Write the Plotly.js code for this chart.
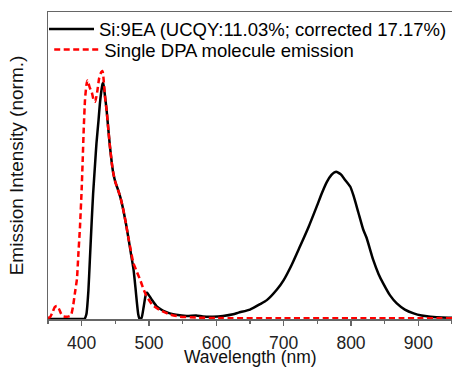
<!DOCTYPE html>
<html>
<head>
<meta charset="utf-8">
<script src="https://cdn.plot.ly/plotly-3.0.1.min.js"></script>
<style>html,body{margin:0;padding:0;background:#fff;}#chart{width:452px;height:368px;}</style>
</head>
<body>
<div id="chart"></div>
<script>
// Si:9EA emission (normalized)
const siWavelength = [350,400,404,407,410,412,415,417,420,422,425,427,429,431,432,434,437,440,442,445,447,450,454,458,462,466,469,473,477,480,482,484,486,489,492,495,497,500,505,511,518,525,531,540,556,570,580,595,610,625,633,650,665,675,690,700,712,724,737,749,757,764,771,775,778,781,785,791,799,804,811,818,823,833,841,848,858,868,880,893,905,918,935,950];
const siIntensity  = [0,0,0,0.02,0.12,0.24,0.42,0.53,0.66,0.745,0.84,0.91,0.96,0.995,1.0,0.96,0.886,0.79,0.73,0.655,0.617,0.58,0.547,0.51,0.46,0.4,0.35,0.28,0.21,0.13,0.07,0.02,0,0.005,0.05,0.1,0.112,0.1,0.078,0.055,0.04,0.03,0.024,0.018,0.013,0.015,0.011,0.01,0.013,0.02,0.027,0.04,0.063,0.08,0.125,0.165,0.23,0.306,0.39,0.476,0.535,0.58,0.61,0.62,0.624,0.62,0.612,0.59,0.56,0.52,0.45,0.38,0.345,0.25,0.19,0.15,0.1,0.066,0.04,0.024,0.015,0.01,0.006,0.005];
// Single DPA molecule emission
const dpaWavelength = [350,353,357,360,363,366,369,372,376,380,384,387,390,393,395,397.5,400,401.5,403,405,407,408.5,410,412,415,418,420,423,426,429,431,433,435,437,440,442,445,447,450,454,458,462,466,469,473,477,482,487,492,497,505,516,530,546,570,600,700,800,950];
const dpaIntensity  = [0.005,0.007,0.03,0.05,0.055,0.045,0.025,0.012,0.01,0.01,0.015,0.05,0.11,0.17,0.27,0.39,0.55,0.67,0.8,0.93,0.99,1.01,1.0,0.98,0.96,0.925,0.92,0.96,1.02,1.045,1.05,1.0,0.93,0.886,0.79,0.73,0.655,0.617,0.58,0.547,0.51,0.46,0.4,0.35,0.29,0.235,0.2,0.165,0.125,0.094,0.06,0.038,0.02,0.01,0.006,0.004,0.003,0.003,0.003];
const seriesNames = ["Si:9EA (UCQY:11.03%; corrected 17.17%)", "Single DPA molecule emission"];
const xTickVals = [400,500,600,700,800,900];
const xTitle = "Wavelength (nm)";
const yTitle = "Emission Intensity (norm.)";

const font = "Liberation Sans, Arial, sans-serif";
const traces = [
  {x: siWavelength, y: siIntensity, name: seriesNames[0], mode: "lines", legend: "legend",
   line: {color: "#000000", width: 2.5, shape: "spline", smoothing: 0.5}},
  {x: dpaWavelength, y: dpaIntensity, name: seriesNames[1], mode: "lines", legend: "legend2",
   line: {color: "#ff0000", width: 2.5, dash: "6px,3.5px", shape: "spline", smoothing: 0.5}}
];
const legendBase = {xanchor: "left", yanchor: "middle", bgcolor: "rgba(0,0,0,0)", borderwidth: 0,
                    itemwidth: 45, font: {family: font, size: 18.5, color: "#000"}};
const layout = {
  width: 452, height: 368,
  margin: {l: 48, r: 0, t: 12, b: 49},
  paper_bgcolor: "#ffffff", plot_bgcolor: "#ffffff",
  font: {family: font, color: "#111111", size: 17},
  showlegend: true,
  legend: Object.assign({x: 0.003, y: 0.943}, legendBase),
  legend2: Object.assign({x: 0.003, y: 0.876}, legendBase),
  xaxis: {
    range: [350, 950], tickvals: xTickVals, ticktext: xTickVals.map(String),
    ticks: "outside", ticklen: 5, tickcolor: "#666", tickwidth: 1.2,
    minor: {dtick: 50, tick0: 350, ticks: "outside", ticklen: 3, tickcolor: "#666"},
    showline: true, linecolor: "#666", linewidth: 1.5, mirror: true,
    showgrid: false, zeroline: false, ticklabelstandoff: 2,
    tickfont: {family: font, size: 17.5, color: "#222"}
  },
  yaxis: {
    range: [0, 1.3], showticklabels: false, ticks: "",
    showline: true, linecolor: "#666", linewidth: 1.5, mirror: true,
    showgrid: false, zeroline: false,
    title: {text: yTitle, font: {family: font, size: 19, color: "#111"}, standoff: 18}
  },
  annotations: [
    {text: xTitle, xref: "paper", yref: "paper", x: 0.5, y: -0.1254, xanchor: "center", yanchor: "middle",
     showarrow: false, borderpad: 0, font: {family: font, size: 17.5, color: "#111"}}
  ]
};
Plotly.newPlot("chart", traces, layout, {displayModeBar: false, staticPlot: true});
</script>
</body>
</html>
